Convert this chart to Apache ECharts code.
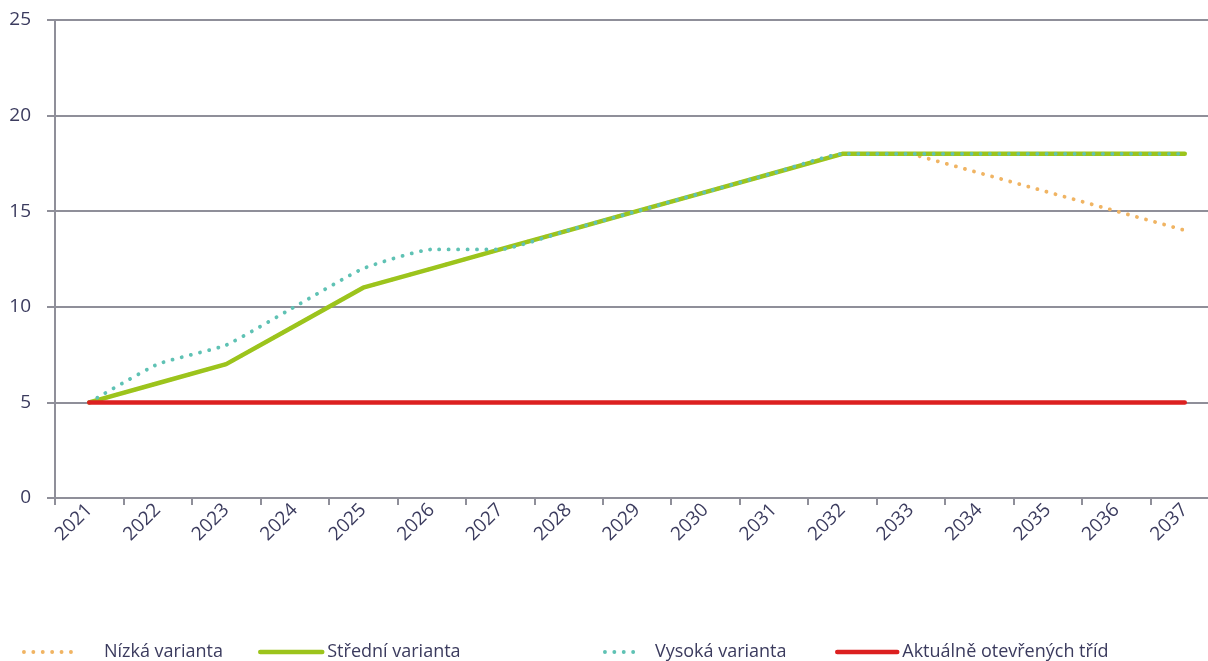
<!DOCTYPE html>
<html><head><meta charset="utf-8">
<script src="https://cdn.jsdelivr.net/npm/echarts@6/dist/echarts.min.js"></script>
<style>html,body{margin:0;padding:0;background:#fff;overflow:hidden;width:1208px;height:661px}#c{width:1219px;height:661px}</style>
</head><body><div id="c"></div>
<script>
const years = ['2021','2022','2023','2024','2025','2026','2027','2028','2029','2030','2031','2032','2033','2034','2035','2036','2037'];
const nizka   = [5,6,7,9,11,12,13,14,15,16,17,18,18,17,16,15,14];
const stredni = [5,6,7,9,11,12,13,14,15,16,17,18,18,18,18,18,18];
const vysoka  = [5,7,8,10,12,13,13,14,15,16,17,18,18,18,18,18,18];
const aktualne= [5,5,5,5,5,5,5,5,5,5,5,5,5,5,5,5,5];
const names = ['Nízká varianta','Střední varianta','Vysoká varianta','Aktuálně otevřených tříd'];
const yTicks = [0,5,10,15,20,25];

const FONT = '"Open Sans", sans-serif';
const TXT = '#3b3b5e';
const AX = '#8f8f99';
const C = {nizka:'#f0b463', stredni:'#9cc41c', vysoka:'#5fc2b4', akt:'#dc2020'};
const dotStyle = (c) => ({color:c, width:3.8, type:[0.1,9.3], cap:'round'});

const chart = echarts.init(document.getElementById('c'), null, {renderer:'canvas'});
function leg(name, left, w, pad, ls){
  return {data:[name], left:left, top:643, itemWidth:w, itemHeight:14, padding:0,
    itemStyle:{opacity:0}, lineStyle:ls,
    textStyle:{fontFamily:FONT, fontSize:18, color:TXT, padding:[0,0,0,pad]}};
}
chart.setOption({
  animation:false,
  grid:{left:55, top:20, right:0, bottom:163, containLabel:false},
  legend:[
    leg(names[0],22,53,22, dotStyle(C.nizka)),
    leg(names[1],258,62,0, {color:C.stredni, width:4.5, cap:'round'}),
    leg(names[2],603,37,8, dotStyle(C.vysoka)),
    leg(names[3],835,60,0, {color:C.akt, width:4.5, cap:'round'})],
  xAxis:{type:'category', data:years, boundaryGap:true,
    axisLine:{lineStyle:{color:AX, width:2}},
    axisTick:{show:true, length:7, lineStyle:{color:AX, width:2}},
    axisLabel:{rotate:45, margin:9, fontFamily:FONT, fontSize:19, color:TXT, interval:0}},
  yAxis:{type:'value', min:yTicks[0], max:yTicks[yTicks.length-1], interval:5,
    axisLine:{show:true, lineStyle:{color:AX, width:2}},
    axisTick:{show:true, length:8, lineStyle:{color:AX, width:2}},
    splitLine:{show:true, lineStyle:{color:AX, width:2}},
    axisLabel:{margin:24, fontFamily:FONT, fontSize:19, color:TXT}},
  series:[
    {name:names[0], type:'line', data:nizka, symbol:'none', lineStyle:dotStyle(C.nizka), itemStyle:{color:C.nizka}},
    {name:names[1], type:'line', data:stredni, symbol:'none', lineStyle:{color:C.stredni, width:4.5, cap:'round'}, itemStyle:{color:C.stredni}},
    {name:names[2], type:'line', data:vysoka, symbol:'none', smooth:0.15, lineStyle:dotStyle(C.vysoka), itemStyle:{color:C.vysoka}},
    {name:names[3], type:'line', data:aktualne, symbol:'none', lineStyle:{color:C.akt, width:4.5, cap:'round'}, itemStyle:{color:C.akt}}
  ]
});
</script></body></html>
